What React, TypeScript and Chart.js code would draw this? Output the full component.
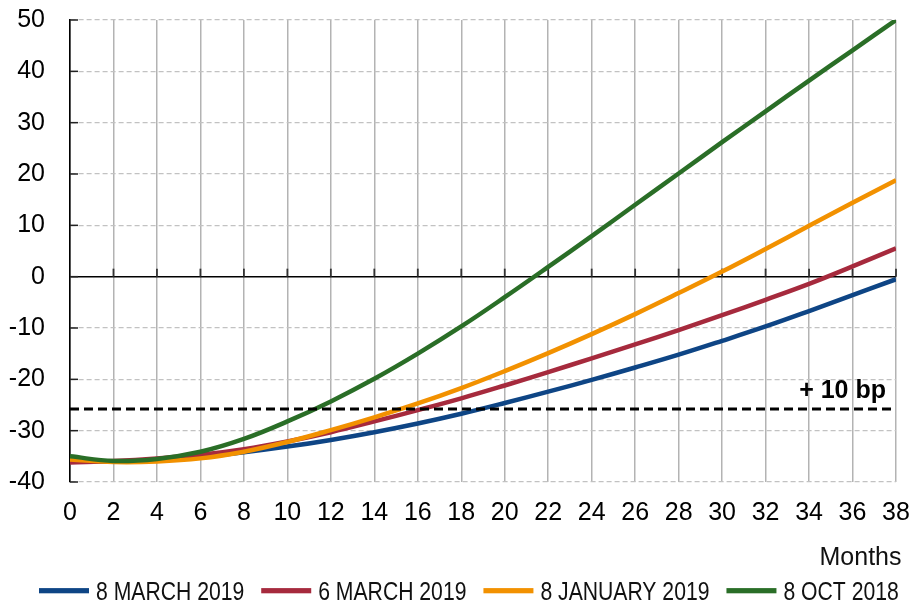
import React, { useEffect, useRef } from "react";
import { Chart, registerables } from "chart.js";

Chart.register(...registerables);

// ---- data ----
const months = [0, 2, 4, 6, 8, 10, 12, 14, 16, 18, 20, 22, 24, 26, 28, 30, 32, 34, 36, 38];
const march8_2019 = [-36.0, -36.0, -35.7, -35.1, -34.2, -33.1, -31.8, -30.3, -28.6, -26.7, -24.6, -22.4, -20.1, -17.7, -15.2, -12.5, -9.7, -6.7, -3.6, -0.5];
const march6_2019 = [-36.2, -35.9, -35.4, -34.7, -33.6, -32.1, -30.3, -28.2, -26.0, -23.7, -21.2, -18.6, -15.9, -13.2, -10.4, -7.5, -4.5, -1.4, 2.0, 5.5];
const jan8_2019 = [-35.6, -36.1, -36.0, -35.4, -34.1, -32.2, -29.9, -27.4, -24.7, -21.7, -18.4, -14.9, -11.2, -7.3, -3.2, 1.0, 5.4, 9.9, 14.4, 18.8];
const oct8_2018 = [-35.0, -35.9, -35.5, -34.1, -31.6, -28.2, -24.3, -19.9, -15.0, -9.7, -4.0, 1.9, 7.9, 14.0, 20.1, 26.2, 32.2, 38.2, 44.1, 50.0];
const seriesLabels = ["8 MARCH 2019", "6 MARCH 2019", "8 JANUARY 2019", "8 OCT 2018"];
const thresholdValue = -25.8;
const thresholdLabel = "+ 10 bp";
const xAxisTitle = "Months";
const yTicksMin = -40;
const yTicksMax = 50;
const yTickStep = 10;
const xTicksMin = 0;
const xTicksMax = 38;
const xTickStep = 2;

// ---- styles ----
const seriesColors = ["#0e4585", "#a62a3d", "#f29100", "#2a6e27"];
const FONT = "'Liberation Sans', Arial, Helvetica, sans-serif";

const toPoints = (vals: number[]) => months.map((m, i) => ({ x: m, y: vals[i] }));

const decorPlugin = {
  id: "decor",
  beforeDatasetsDraw(chart: any) {
    const { ctx, chartArea, scales } = chart;
    const x = scales.x;
    const y = scales.y;
    ctx.save();
    // inner ticks on y axis
    ctx.strokeStyle = "#222";
    ctx.lineWidth = 1.5;
    y.ticks.forEach((t: any) => {
      const py = y.getPixelForValue(t.value);
      ctx.beginPath();
      ctx.moveTo(chartArea.left, py);
      ctx.lineTo(chartArea.left + 8, py);
      ctx.stroke();
    });
    // ticks on zero line
    const y0 = y.getPixelForValue(0);
    ctx.strokeStyle = "#333";
    ctx.lineWidth = 1.8;
    x.ticks.forEach((t: any) => {
      if (t.value === xTicksMin) return;
      const px = x.getPixelForValue(t.value);
      ctx.beginPath();
      ctx.moveTo(px, y0);
      ctx.lineTo(px, y0 - 8);
      ctx.stroke();
    });
    // threshold label
    ctx.fillStyle = "#000";
    ctx.font = "bold 25px " + FONT;
    ctx.textAlign = "right";
    ctx.textBaseline = "alphabetic";
    ctx.fillText(thresholdLabel, x.getPixelForValue(xTicksMax) - 10, y.getPixelForValue(thresholdValue) - 11.5);
    ctx.restore();
  },
  afterDraw(chart: any) {
    const { ctx } = chart;
    ctx.save();
    // axis title
    ctx.fillStyle = "#111";
    ctx.font = "25px " + FONT;
    ctx.textAlign = "right";
    ctx.textBaseline = "alphabetic";
    ctx.fillText(xAxisTitle, 901.5, 565);
    // legend (condensed text)
    ctx.font = "25.5px " + FONT;
    ctx.textAlign = "left";
    const squeeze = 0.83;
    let lx = 39;
    const baseline = 599.5;
    const swCenter = 590.7;
    seriesLabels.forEach((label, i) => {
      ctx.fillStyle = seriesColors[i];
      ctx.fillRect(lx, swCenter - 2.6, 50, 5.2);
      lx += 50 + 7;
      ctx.fillStyle = "#111";
      ctx.save();
      ctx.translate(lx, baseline);
      ctx.scale(squeeze, 1);
      ctx.fillText(label, 0, 0);
      ctx.restore();
      lx += ctx.measureText(label).width * squeeze + 17;
    });
    ctx.restore();
  },
};

export default function App() {
  const ref = useRef<HTMLCanvasElement | null>(null);
  useEffect(() => {
    document.body.style.margin = "0";
    const canvas = ref.current!;
    const lineDs = (i: number, vals: number[], order: number) => ({
      label: seriesLabels[i],
      data: toPoints(vals),
      borderColor: seriesColors[i],
      backgroundColor: seriesColors[i],
      borderWidth: 4.5,
      pointRadius: 0,
      tension: 0.4,
      fill: false,
      order,
    });
    const chart = new Chart(canvas, {
      type: "line",
      data: {
        datasets: [
          lineDs(0, march8_2019, 4),
          lineDs(1, march6_2019, 3),
          lineDs(2, jan8_2019, 2),
          lineDs(3, oct8_2018, 1),
          {
            label: thresholdLabel,
            data: [
              { x: xTicksMin, y: thresholdValue },
              { x: xTicksMax, y: thresholdValue },
            ],
            borderColor: "#000",
            borderWidth: 3,
            borderDash: [9, 5],
            pointRadius: 0,
            fill: false,
            order: 0,
          } as any,
        ],
      },
      options: {
        animation: false,
        responsive: false,
        devicePixelRatio: 1,
        layout: { padding: { top: 20, right: 18, bottom: 0, left: 0 } },
        plugins: { legend: { display: false }, tooltip: { enabled: false } },
        scales: {
          x: {
            type: "linear",
            min: xTicksMin,
            max: xTicksMax,
            ticks: {
              stepSize: xTickStep,
              padding: 16,
              color: "#000",
              font: { family: FONT, size: 25 },
              maxRotation: 0,
              autoSkip: false,
            },
            grid: { color: "#b3b3b3", lineWidth: 1.5, drawTicks: false },
            border: { display: false },
            afterFit: (s: any) => {
              s.height = 121;
              s.paddingLeft = 0;
              s.paddingRight = 0;
            },
          },
          y: {
            type: "linear",
            min: yTicksMin,
            max: yTicksMax,
            ticks: {
              stepSize: yTickStep,
              padding: 25,
              color: "#000",
              font: { family: FONT, size: 25 },
            },
            grid: {
              drawTicks: false,
              color: (c: any) => (c.tick && c.tick.value === 0 ? "#000" : "#c2c2c2"),
              lineWidth: (c: any) => (c.tick && c.tick.value === 0 ? 1.6 : 1.3),
            },
            border: {
              display: true,
              color: "#000",
              width: 1.6,
              dash: (c: any) => (c.tick && c.tick.value === 0 ? [] : [5, 3]),
            } as any,
            afterFit: (s: any) => {
              s.width = 70;
              s.paddingTop = 0;
              s.paddingBottom = 0;
            },
          },
        },
      },
      plugins: [decorPlugin],
    });
    return () => chart.destroy();
  }, []);
  return (
    <div style={{ position: "absolute", left: 0, top: 0, width: 914, height: 603 }}>
      <canvas ref={ref} width={914} height={603} style={{ display: "block", width: 914, height: 603 }} />
    </div>
  );
}
